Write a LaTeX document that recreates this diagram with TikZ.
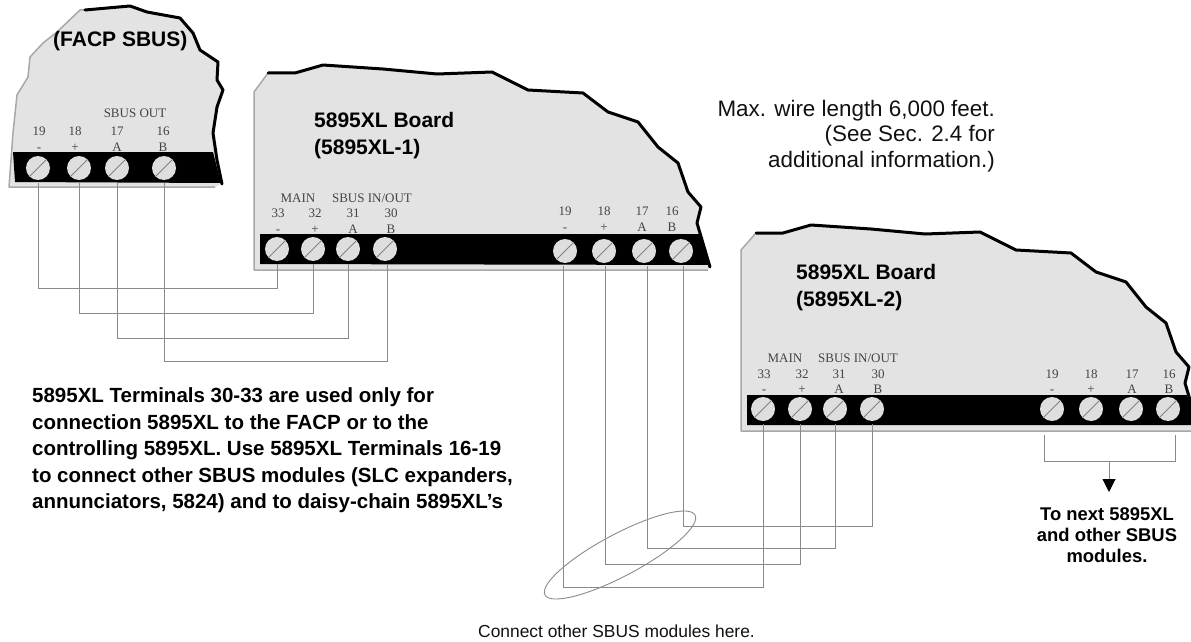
\documentclass[tikz,border=0pt]{standalone}
\usepackage{fontspec}
\setmainfont{Liberation Sans}
\newfontfamily\termfont{Liberation Serif}
\usetikzlibrary{arrows.meta}
\definecolor{boardgray}{HTML}{E3E3E3}
\definecolor{edgegray}{HTML}{A8A8A8}
\definecolor{wiregray}{HTML}{8A8A8A}
\definecolor{termtext}{HTML}{444444}
\definecolor{screwfill}{HTML}{DEDEDE}
\definecolor{inktext}{HTML}{111111}
\tikzset{
  boardfill/.style={fill=boardgray,draw=none},
  thinedge/.style={draw=edgegray,line width=1.5pt,line join=round},
  thickedge/.style={draw=black,line width=3pt,line join=round,line cap=round},
  termbar/.style={fill=black,draw=none},
  screw/.style={circle,minimum size=24pt,inner sep=0pt,fill=screwfill,
    path picture={\draw[draw=gray,line width=1pt]
      ([xshift=2pt,yshift=2pt]path picture bounding box.south west) --
      ([xshift=-2pt,yshift=-2pt]path picture bounding box.north east);}},
  wire/.style={draw=wiregray,line width=0.9pt},
  termwire/.style={wire,shorten <=3pt,shorten >=3pt},
  term/.style={inner sep=0pt,anchor=base,text=termtext,font=\termfont\fontsize{13}{13}\selectfont},
  title/.style={inner sep=0pt,anchor=base west,text=black,font=\bfseries\fontsize{21}{21}\selectfont},
  note/.style={inner sep=0pt,anchor=base east,text=inktext,font=\fontsize{22.4}{22.4}\selectfont},
  para/.style={inner sep=0pt,anchor=base west,text=black,font=\bfseries\fontsize{20.5}{20.5}\selectfont},
  nextnote/.style={inner sep=0pt,anchor=base,text=black,font=\bfseries\fontsize{18.4}{18.4}\selectfont},
}
\begin{document}
\begin{tikzpicture}[x=1pt,y=-1pt]
\useasboundingbox (0,0) rectangle (1191,642);
\clip (0,0) rectangle (1191,642);
% FACP board
\path[boardfill] (9,187) -- (13,133) -- (17,95) -- (28,77) -- (30,57) -- (43,43) -- (57,32) -- (80,10) -- (85,10) -- (130,6) -- (147,12) -- (180,18) -- (193,33) -- (200,50) -- (218,62) -- (217,80) -- (223,90) -- (217,107) -- (213,133) -- (217,160) -- (222,184) -- (215,187) -- cycle;
\draw[thinedge] (85,10) -- (80,10) -- (57,32) -- (43,43) -- (30,57) -- (28,77) -- (17,95) -- (13,133) -- (9,187) -- (215,187);
\draw[thickedge] (85,10) -- (130,6) -- (147,12) -- (180,18) -- (193,33) -- (200,50) -- (218,62) -- (217,80) -- (223,90) -- (217,107) -- (213,133) -- (217,160) -- (222,184);
\path[termbar] (13,152) -- (213,152) -- (221,183) -- (15,182) -- cycle;
% Board 1
\path[boardfill] (254,270) -- (254,92) -- (268,73) -- (295,73) -- (323,65) -- (383,69) -- (437,74) -- (492,72) -- (528,90) -- (583,93) -- (608,112) -- (638,122) -- (658,147) -- (678,163) -- (688,192) -- (701,207) -- (697,223) -- (710,267) -- (708,270) -- cycle;
\draw[thinedge] (268,73) -- (254,92) -- (254,270) -- (708,270);
\draw[thickedge] (268,73) -- (295,73) -- (323,65) -- (383,69) -- (437,74) -- (492,72) -- (528,90) -- (583,93) -- (608,112) -- (638,122) -- (658,147) -- (678,163) -- (688,192) -- (701,207) -- (697,223) -- (710,267);
\path[termbar] (260,234) -- (699,234) -- (710,265) -- (260,264) -- cycle;
% Board 2
\path[boardfill] (741,431) -- (741,250) -- (756,233) -- (783,233) -- (811,225) -- (871,229) -- (925,234) -- (980,232) -- (1016,250) -- (1071,253) -- (1096,272) -- (1126,282) -- (1146,307) -- (1166,323) -- (1176,352) -- (1189,367) -- (1185,383) -- (1198,427) -- (1198,431) -- cycle;
\draw[thinedge] (756,233) -- (741,250) -- (741,431) -- (1198,431);
\draw[thickedge] (756,233) -- (783,233) -- (811,225) -- (871,229) -- (925,234) -- (980,232) -- (1016,250) -- (1071,253) -- (1096,272) -- (1126,282) -- (1146,307) -- (1166,323) -- (1176,352) -- (1189,367) -- (1185,383) -- (1198,427);
\path[termbar] (747,395) -- (1187,395) -- (1198,425) -- (747,425) -- cycle;
% screws
\foreach \n/\x in {19/38,18/79,17/117,16/164} \node[screw] (f\n) at (\x,168) {};
\foreach \n/\x in {33/277,32/313,31/348,30/385} \node[screw] (a\n) at (\x,249) {};
\foreach \n/\x in {19/565,18/604,17/644,16/681} \node[screw] (a\n) at (\x,251) {};
\foreach \n/\x in {33/763,32/800,31/835,30/872} \node[screw] (b\n) at (\x,409) {};
\foreach \n/\x in {19/1052,18/1091,17/1131,16/1168} \node[screw] (b\n) at (\x,409) {};
% wires FACP to board 1
\draw[termwire] (f19.south) -- (f19.south |- 0,288) -- (a33.south |- 0,288) -- (a33.south);
\draw[termwire] (f18.south) -- (f18.south |- 0,313) -- (a32.south |- 0,313) -- (a32.south);
\draw[termwire] (f17.south) -- (f17.south |- 0,338) -- (a31.south |- 0,338) -- (a31.south);
\draw[termwire] (f16.south) -- (f16.south |- 0,361) -- ([xshift=2pt]a30.south |- 0,361) -- ([xshift=2pt]a30.south);
% wires board 1 to board 2
\draw[termwire] ([xshift=-2pt]a19.south) -- ([xshift=-2pt]a19.south |- 0,587) -- (b33.south |- 0,587) -- (b33.south);
\draw[termwire] ([xshift=1pt]a18.south) -- ([xshift=1pt]a18.south |- 0,564) -- (b32.south |- 0,564) -- (b32.south);
\draw[termwire] ([xshift=3pt]a17.south) -- ([xshift=3pt]a17.south |- 0,548) -- (b31.south |- 0,548) -- (b31.south);
\draw[termwire] ([xshift=2pt]a16.south) -- ([xshift=2pt]a16.south |- 0,526) -- (b30.south |- 0,526) -- (b30.south);
% ellipse
\draw[wire,rotate around={28:(620,555)}] (620,555) ellipse [x radius=85pt,y radius=21pt];
% next bracket
\coordinate (brkL) at (1044,435);
\coordinate (brkR) at (1175,435);
\coordinate (brkM) at (1109,461);
\coordinate (brkT) at (1109,492);
\draw[wire] (brkL) |- (brkR |- brkM) -- (brkR);
\draw[wire,-{Triangle[width=13pt,length=13pt,fill=black,color=black]}] (brkM) -- (brkT);
% terminal labels FACP
\node[term] (fsbus) at (135,117) {SBUS OUT};
\foreach \n/\s/\x in {19/-/39,18/+/75,17/A/117,16/B/163}{
  \node[term] (fn\n) at (\x,135) {\n};
  \node[term] (fs\n) at (\x,151) {\s};
}
% terminal labels board 1
\node[term] (amain) at (298,202) {MAIN};
\node[term] (asbus) at (372,202) {SBUS IN/OUT};
\foreach \n/\s/\x in {33/-/278,32/+/315,31/A/353,30/B/391}{
  \node[term] (an\n) at (\x,217) {\n};
  \node[term] (as\n) at (\x,233) {\s};
}
\foreach \n/\s/\x in {19/-/565,18/+/604,17/A/642,16/B/672}{
  \node[term] (an\n) at (\x,215) {\n};
  \node[term] (as\n) at (\x,231) {\s};
}
% terminal labels board 2
\node[term] (bmain) at (785,362) {MAIN};
\node[term] (bsbus) at (858,362) {SBUS IN/OUT};
\foreach \n/\s/\x in {33/-/764,32/+/802,31/A/839,30/B/878,19/-/1052,18/+/1091,17/A/1132,16/B/1169}{
  \node[term] (bn\n) at (\x,378) {\n};
  \node[term] (bs\n) at (\x,393) {\s};
}
% titles
\node[title] (tfacp) at (53,47) {(FACP SBUS)};
\node[title] (ta1) at (314,127) {5895XL Board};
\node[title] (ta2) at (314,154) {(5895XL-1)};
\node[title] (tb1) at (796,279) {5895XL Board};
\node[title] (tb2) at (796,306) {(5895XL-2)};
% note
\node[note] (n1) at (995,116) {Max. wire length 6,000 feet.};
\node[note] (n2) at (995,141) {(See Sec. 2.4 for};
\node[note] (n3) at (995,167) {additional information.)};
% paragraph
\node[para] (p1) at (32,402) {5895XL Terminals 30-33 are used only for};
\node[para] (p2) at (32,429) {connection 5895XL to the FACP or to the};
\node[para] (p3) at (32,455.5) {controlling 5895XL. Use 5895XL Terminals 16-19};
\node[para] (p4) at (32,482) {to connect other SBUS modules (SLC expanders,};
\node[para] (p5) at (32,508) {annunciators, 5824) and to daisy-chain 5895XL’s};
% next note
\node[nextnote] (x1) at (1107,520) {To next 5895XL};
\node[nextnote] (x2) at (1107,541) {and other SBUS};
\node[nextnote] (x3) at (1107,562) {modules.};
% bottom caption
\node[inner sep=0pt,anchor=base east,text=inktext,font=\fontsize{17.4}{17.4}\selectfont] (cap) at (755,637) {Connect other SBUS modules here.};
\end{tikzpicture}
\end{document}
